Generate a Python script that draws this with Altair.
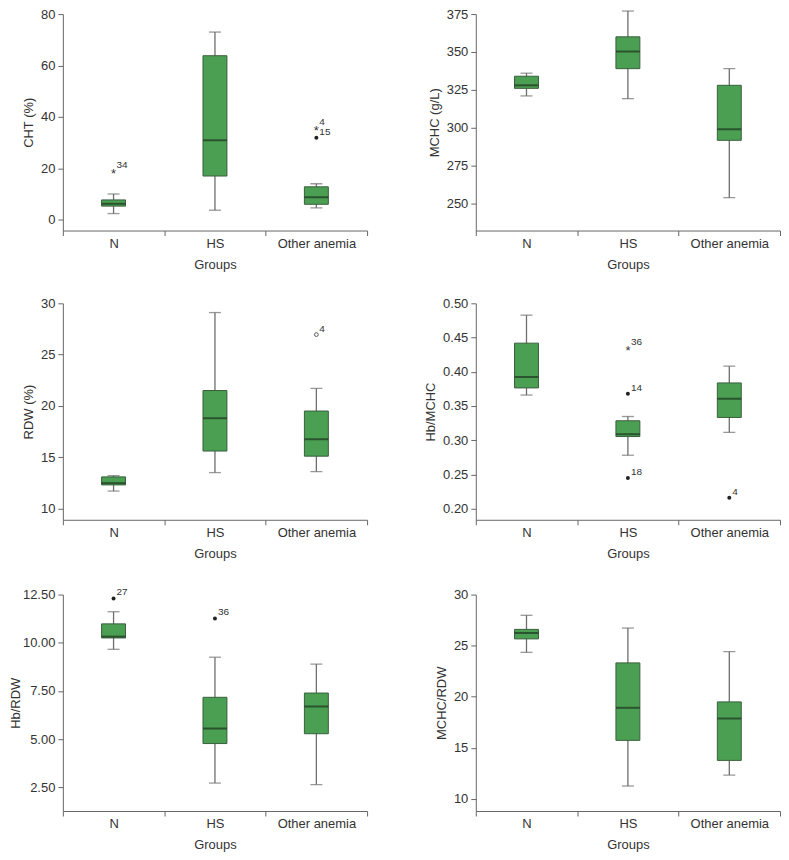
import altair as alt
import pandas as pd

groups = ["N", "HS", "Other anemia"]

# Panel 1: CHT (%)
cht_low = [2.4, 3.7, 4.6]
cht_q1 = [5.3, 17.0, 6.0]
cht_median = [6.2, 30.9, 8.7]
cht_q3 = [7.7, 63.8, 12.8]
cht_high = [10.0, 73.0, 14.0]
cht_out_group = ["N", "Other anemia", "Other anemia"]
cht_out_value = [19.0, 35.8, 31.9]
cht_out_label = ["34", "4", "15"]
cht_out_kind = ["star", "star", "dot"]

# Panel 2: MCHC (g/L)
mchc_low = [321.0, 319.2, 253.9]
mchc_q1 = [326.0, 339.0, 291.7]
mchc_median = [328.0, 350.3, 299.0]
mchc_q3 = [334.0, 360.0, 328.0]
mchc_high = [336.0, 377.0, 339.0]
mchc_out_group = []
mchc_out_value = []
mchc_out_label = []
mchc_out_kind = []

# Panel 3: RDW (%)
rdw_low = [11.7, 13.5, 13.6]
rdw_q1 = [12.3, 15.6, 15.1]
rdw_median = [12.47, 18.8, 16.75]
rdw_q3 = [13.08, 21.5, 19.5]
rdw_high = [13.2, 29.1, 21.7]
rdw_out_group = ["Other anemia"]
rdw_out_value = [26.95]
rdw_out_label = ["4"]
rdw_out_kind = ["open"]

# Panel 4: Hb/MCHC
hbm_low = [0.366, 0.278, 0.3115]
hbm_q1 = [0.3764, 0.3053, 0.3332]
hbm_median = [0.3923, 0.3087, 0.3606]
hbm_q3 = [0.4418, 0.3284, 0.3837]
hbm_high = [0.4827, 0.3346, 0.4082]
hbm_out_group = ["HS", "HS", "HS", "Other anemia"]
hbm_out_value = [0.4341, 0.3678, 0.2447, 0.2159]
hbm_out_label = ["36", "14", "18", "4"]
hbm_out_kind = ["star", "dot", "dot", "dot"]

# Panel 5: Hb/RDW
hbr_low = [9.66, 2.72, 2.64]
hbr_q1 = [10.25, 4.77, 5.28]
hbr_median = [10.32, 5.55, 6.69]
hbr_q3 = [10.98, 7.17, 7.39]
hbr_high = [11.61, 9.25, 8.89]
hbr_out_group = ["N", "HS"]
hbr_out_value = [12.3, 11.26]
hbr_out_label = ["27", "36"]
hbr_out_kind = ["dot", "dot"]

# Panel 6: MCHC/RDW
mr_low = [24.34, 11.25, 12.32]
mr_q1 = [25.66, 15.72, 13.76]
mr_median = [26.24, 18.91, 17.85]
mr_q3 = [26.59, 23.31, 19.49]
mr_high = [27.97, 26.72, 24.41]
mr_out_group = []
mr_out_value = []
mr_out_label = []
mr_out_kind = []

W, H = 305, 217
FILL = "#4a9f52"
EDGE = "#3a5f3e"
MED = "#1d3320"
WHISK = "#6e6e6e"


def panel(title, low, q1, med, q3, high, og, ov, ol, ok, domain, ticks, fmt, tpad=5):
    box = pd.DataFrame({"group": groups, "low": low, "q1": q1, "med": med,
                        "q3": q3, "high": high})
    xenc = alt.X("group:N", sort=groups,
                 scale=alt.Scale(domain=groups, paddingInner=0, paddingOuter=0),
                 axis=alt.Axis(title="Groups"))
    ysc = alt.Scale(domain=domain, nice=False, zero=False)

    def ye(field):
        return alt.Y(field, type="quantitative", scale=ysc,
                     axis=alt.Axis(title=title, values=ticks, format=fmt,
                                   titlePadding=tpad))

    base = alt.Chart(box).encode(x=xenc)
    whisk = base.mark_rule(color=WHISK, strokeWidth=1.3).encode(y=ye("low"), y2="high:Q")
    cap_lo = base.mark_tick(size=12, thickness=1.3, color=WHISK).encode(y=ye("low"))
    cap_hi = base.mark_tick(size=12, thickness=1.3, color=WHISK).encode(y=ye("high"))
    bx = base.mark_bar(size=24, fill=FILL, stroke=EDGE, strokeWidth=1).encode(
        y=ye("q1"), y2="q3:Q")
    medl = base.mark_tick(size=24, thickness=2, color=MED).encode(y=ye("med"))
    layers = [whisk, cap_lo, cap_hi, bx, medl]
    if og:
        out = pd.DataFrame({"group": og, "value": ov, "label": ol, "kind": ok})
        ob = alt.Chart(out).encode(x=xenc, y=ye("value"))
        stars = ob.transform_filter(alt.datum.kind == "star").mark_text(
            text="*", fontSize=13, baseline="alphabetic", dy=7, color="#333333",
            font="Liberation Sans")
        dots = ob.transform_filter(alt.datum.kind == "dot").mark_point(
            shape="circle", filled=True, size=16, color="#222222", opacity=1)
        opens = ob.transform_filter(alt.datum.kind == "open").mark_point(
            shape="circle", filled=False, size=14, color="#555555", strokeWidth=1, opacity=1)
        labs = ob.mark_text(align="left", baseline="middle", dx=3, dy=-6,
                            fontSize=10, color="#333333",
                            font="Liberation Sans").encode(text="label:N")
        layers += [stars, dots, opens, labs]
    return alt.layer(*layers).properties(width=W, height=H)


p1 = panel("CHT (%)", cht_low, cht_q1, cht_median, cht_q3, cht_high,
           cht_out_group, cht_out_value, cht_out_label, cht_out_kind,
           [-4.2, 80], [0, 20, 40, 60, 80], "d")
p2 = panel("MCHC (g/L)", mchc_low, mchc_q1, mchc_median, mchc_q3, mchc_high,
           mchc_out_group, mchc_out_value, mchc_out_label, mchc_out_kind,
           [232.2, 375], [250, 275, 300, 325, 350, 375], "d")
p3 = panel("RDW (%)", rdw_low, rdw_q1, rdw_median, rdw_q3, rdw_high,
           rdw_out_group, rdw_out_value, rdw_out_label, rdw_out_kind,
           [8.9, 30], [10, 15, 20, 25, 30], "d")
p4 = panel("Hb/MCHC", hbm_low, hbm_q1, hbm_median, hbm_q3, hbm_high,
           hbm_out_group, hbm_out_value, hbm_out_label, hbm_out_kind,
           [0.1837, 0.50], [0.20, 0.25, 0.30, 0.35, 0.40, 0.45, 0.50], ".2f")
p5 = panel("Hb/RDW", hbr_low, hbr_q1, hbr_median, hbr_q3, hbr_high,
           hbr_out_group, hbr_out_value, hbr_out_label, hbr_out_kind,
           [1.27, 12.5], [2.5, 5.0, 7.5, 10.0, 12.5], ".2f", tpad=0)
p6 = panel("MCHC/RDW", mr_low, mr_q1, mr_median, mr_q3, mr_high,
           mr_out_group, mr_out_value, mr_out_label, mr_out_kind,
           [8.8, 30], [10, 15, 20, 25, 30], "d")

chart = alt.concat(p1, p2, p3, p4, p5, p6, columns=2,
                   spacing={"row": 26, "column": 56}).properties(
    padding={"left": 1, "top": -1, "right": 0, "bottom": 0}
).configure_view(stroke=None).configure_axis(
    grid=False, domainColor="#666666", tickColor="#666666", tickSize=5,
    labelColor="#333333", titleColor="#333333", labelFont="Liberation Sans",
    titleFont="Liberation Sans", labelFontSize=13, titleFontSize=13,
    titleFontWeight="normal", domainWidth=1, tickWidth=1
).configure_axisX(
    tickBand="extent", labelAngle=0, labelPadding=2, titlePadding=8
).configure_axisY(
    labelPadding=3, titlePadding=5
)

chart.save("out.html", embed_options={"renderer": "svg", "actions": False})
